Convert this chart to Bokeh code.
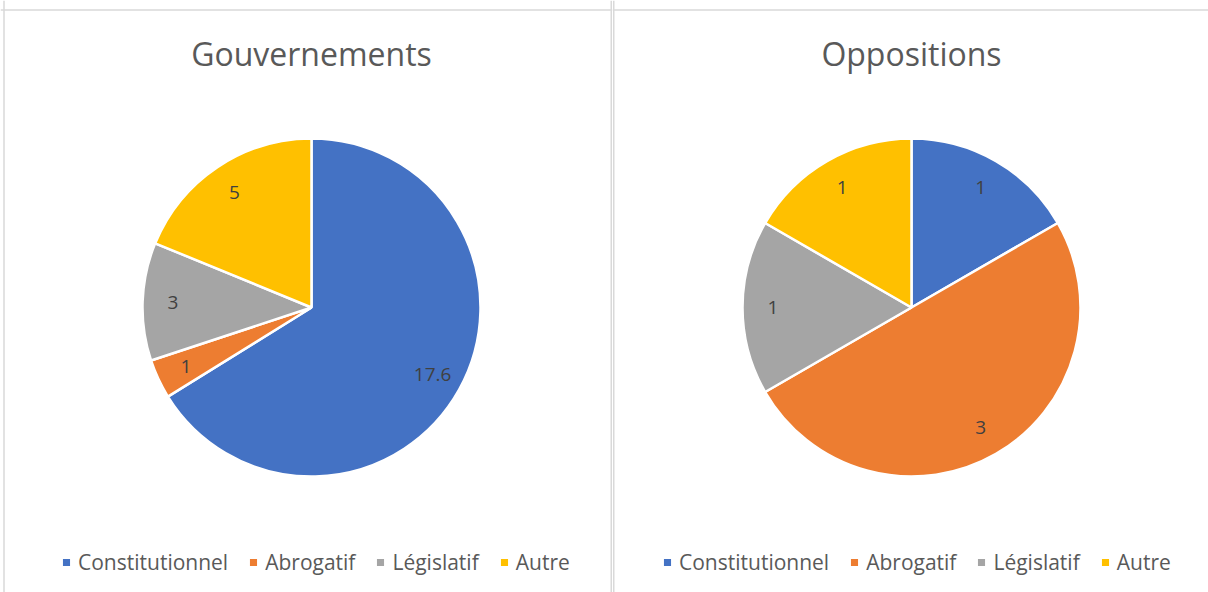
import numpy as np
from bokeh.plotting import figure
from bokeh.models import ColumnDataSource, Legend, LegendItem, Range1d, Span
from bokeh.layouts import row
from bokeh.embed import file_html
from bokeh.resources import INLINE
from bokeh.core.properties import value

# ---- data ----
categories = ["Constitutionnel", "Abrogatif", "Législatif", "Autre"]
colors = ["#4472C4", "#ED7D31", "#A5A5A5", "#FFC000"]
gouv_values = [17.6, 1, 3, 5]
opp_values = [1, 3, 1, 1]
titles = ["Gouvernements", "Oppositions"]

FONT = "Open Sans"
H = 592
BORDER = "#d9d9d9"


def make_panel(title, vals, x0, w, cx, legend_x, left_border, right_border):
    # x data coordinate == page pixel; y data = H - page pixel
    p = figure(width=w, height=H, x_range=Range1d(x0, x0 + w), y_range=Range1d(0, H),
               output_backend="svg", toolbar_location=None, min_border=0,
               x_axis_location=None, y_axis_location=None)
    p.grid.visible = False
    p.outline_line_color = None
    p.background_fill_color = "white"
    p.border_fill_color = "white"

    # panel borders
    p.add_layout(Span(location=H - 9.5, dimension="width", line_color=BORDER, line_width=1.5))
    p.add_layout(Span(location=left_border, dimension="height", line_color=BORDER, line_width=1.5))
    if right_border is not None:
        p.add_layout(Span(location=right_border, dimension="height", line_color=BORDER, line_width=1.5))

    cy = H - 307
    r = 169
    vals = np.array(vals, dtype=float)
    frac = vals / vals.sum()
    cum_end = np.cumsum(frac) * 2 * np.pi
    cum_start = cum_end - frac * 2 * np.pi
    mid = (cum_start + cum_end) / 2
    src = ColumnDataSource(dict(
        cat=categories, color=colors,
        start=np.pi / 2 - cum_end, end=np.pi / 2 - cum_start,
    ))
    wedges = p.wedge(x=cx, y=cy, radius=r, start_angle="start", end_angle="end",
                     fill_color="color", line_color="white", line_width=2.5, source=src)

    lab_r = 0.82 * r
    lsrc = ColumnDataSource(dict(
        x=cx + lab_r * np.sin(mid), y=cy + lab_r * np.cos(mid),
        t=[("%g" % v) for v in vals],
    ))
    p.text(x="x", y="y", text="t", source=lsrc, text_align="center",
           text_baseline="middle", text_font=value(FONT), text_font_size="19px",
           text_color="#404040")

    p.text(x=[cx], y=[H - 53], text=[title], text_align="center", text_baseline="middle",
           text_font=value(FONT), text_font_size="32px", text_color="#595959")

    items = [LegendItem(label=c, renderers=[wedges], index=i) for i, c in enumerate(categories)]
    leg = Legend(items=items, orientation="horizontal", location=(legend_x, 16),
                 glyph_width=12, glyph_height=12, label_text_font=FONT,
                 label_text_font_size="21px", label_text_color="#595959",
                 spacing=19, label_standoff=6, border_line_color=None,
                 background_fill_alpha=0, padding=0, margin=0)
    p.add_layout(leg, "center")
    return p


p1 = make_panel(titles[0], gouv_values, 0, 612, 311, 60, 3.5, 610.75)
p2 = make_panel(titles[1], opp_values, 612, 596, 911, 49, 613.25, None)
layout = row(p1, p2)

open("out.html", "w").write(file_html(layout, INLINE))
